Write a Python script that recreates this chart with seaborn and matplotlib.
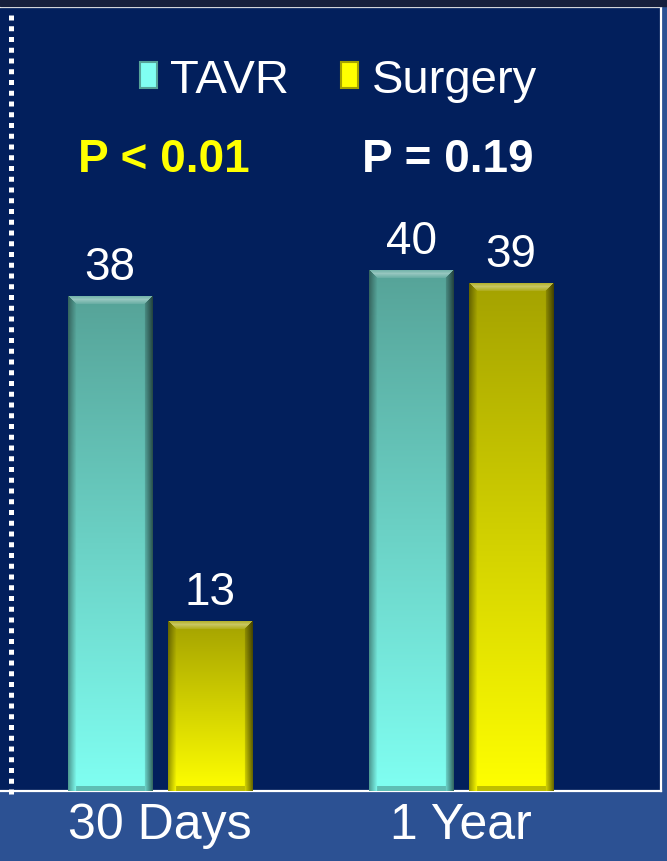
import numpy as np
import pandas as pd
import matplotlib
matplotlib.use("Agg")
import matplotlib.pyplot as plt
import seaborn as sns
from matplotlib.patches import Patch, Rectangle
from matplotlib.lines import Line2D
from matplotlib.colors import to_rgb

# ---- data -------------------------------------------------------------
periods = ["30 Days", "1 Year"]
groups = ["TAVR", "Surgery"]
tavr = [38, 40]
surgery = [13, 39]
p_labels = ["P < 0.01", "P = 0.19"]
p_colors = ["#ffff00", "#ffffff"]

df = pd.DataFrame({
    "period": periods * 2,
    "group": ["TAVR"] * len(periods) + ["Surgery"] * len(periods),
    "value": tavr + surgery,
})

# ---- style ------------------------------------------------------------
sns.set_theme(style="white")
plt.rcParams["font.family"] = ["Liberation Sans", "DejaVu Sans"]

NAVY = "#021f5c"
BAND = "#2c5193"
W_PX, H_PX = 667, 862

fig = plt.figure(figsize=(W_PX / 100, H_PX / 100), dpi=100, facecolor=BAND)
ax = fig.add_axes([0, 70 / H_PX, 661 / W_PX, 784 / H_PX])
ax.set_facecolor(NAVY)

palette = {"TAVR": "#6cd6c8", "Surgery": "#e0e000"}
sns.barplot(data=df, x="period", y="value", hue="group", order=periods,
            hue_order=groups, palette=palette, width=0.665, gap=0.16,
            saturation=1, edgecolor="none", legend=False, ax=ax)

XLIM = (-0.532, 1.664)
YLIM = (0, 60.3)
ax.set_xlim(*XLIM)
ax.set_ylim(*YLIM)

# gradient colours for each series (top of bar -> bottom of bar)
grad = {
    "TAVR": (to_rgb("#56a398"), to_rgb("#80fff2")),
    "Surgery": (to_rgb("#a4a200"), to_rgb("#ffff00")),
}


def bevel_image(h, w, top, bottom):
    """Vertical gradient with bevelled edges, sized in pixels."""
    h, w = max(int(h), 2), max(int(w), 2)
    t = np.linspace(0, 1, h)[:, None, None]
    img = np.array(top)[None, None, :] * (1 - t) + np.array(bottom)[None, None, :] * t
    img = np.repeat(img, w, axis=1)
    rr, cc = np.mgrid[0:h, 0:w]
    bev = 8
    side_l = (cc < bev) & (cc <= rr)
    side_r = (w - 1 - cc < bev) & (w - 1 - cc <= rr)
    top_b = (rr < bev) & (cc > rr) & (w - 1 - cc > rr)
    bot_b = (h - 1 - rr < 5) & ~side_l & ~side_r
    shade = np.ones((h, w))
    # left edge slightly dark, right edge darker
    shade = np.where(side_l, 0.62 + 0.38 * (cc / bev), shade)
    shade = np.where(side_r, 0.42 + 0.45 * ((w - 1 - cc) / bev), shade)
    shade = np.where(bot_b, 0.75, shade)
    img = img * shade[:, :, None]
    # top highlight
    hl = np.where(top_b, 0.38 * (1 - np.abs(rr - 3) / 6), 0.0)
    hl = np.clip(hl, 0, None)
    img = img + (1 - img) * hl[:, :, None]
    return np.clip(img, 0, 1)


fig.canvas.draw()
for container, g in zip(ax.containers, groups):
    for patch in container:
        x0, y0 = patch.get_x(), patch.get_y()
        w, h = patch.get_width(), patch.get_height()
        bb = patch.get_window_extent()
        img = bevel_image(bb.height, bb.width, *grad[g])
        ax.imshow(img, extent=(x0, x0 + w, y0, y0 + h), origin="upper",
                  aspect="auto", interpolation="bilinear", zorder=3)
    ax.bar_label(container, labels=[f"{v:g}" for v in container.datavalues],
                 padding=6, color="white", fontsize=33, zorder=5)

ax.set_xlim(*XLIM)
ax.set_ylim(*YLIM)

# p-values above each time point
for i, (lab, col) in enumerate(zip(p_labels, p_colors)):
    ax.text(i + (0.013 if i == 0 else -0.045), 48.6, lab, ha="center",
            va="center", fontsize=33, fontweight="bold", color=col, zorder=5)

# axes decoration
ax.set_xlabel("")
ax.set_ylabel("")
ax.set_yticks([])
ax.tick_params(axis="x", length=0, pad=8, labelsize=36, labelcolor="white")
for side in ("top", "right", "bottom"):
    ax.spines[side].set_visible(True)
    ax.spines[side].set_color("white")
    ax.spines[side].set_linewidth(1.6)
ax.spines["left"].set_visible(False)

# legend
handles = [Patch(facecolor=grad[g][1], edgecolor=grad[g][0], linewidth=1.5, label=g)
           for g in groups]
ax.legend(handles=handles, loc="center", bbox_to_anchor=(0.512, 0.907),
          ncol=2, frameon=False, fontsize=34, labelcolor="white",
          handlelength=0.36, handleheight=0.45, handletextpad=0.28,
          columnspacing=1.1, borderpad=0)

# dark strip along the top edge and dotted divider on the left
fig.patches.append(Rectangle((0, 1 - 7 / H_PX), 1, 7 / H_PX,
                             transform=fig.transFigure, color="#161f3c", zorder=0))
fig.lines.append(Line2D([10.5 / W_PX, 10.5 / W_PX], [1 - 795 / H_PX, 1 - 12 / H_PX],
                        transform=fig.transFigure, color="white", linewidth=3.6,
                        linestyle=(0, (1, 1.15)), zorder=10))

fig.savefig("out.png", dpi=100, facecolor=fig.get_facecolor())
